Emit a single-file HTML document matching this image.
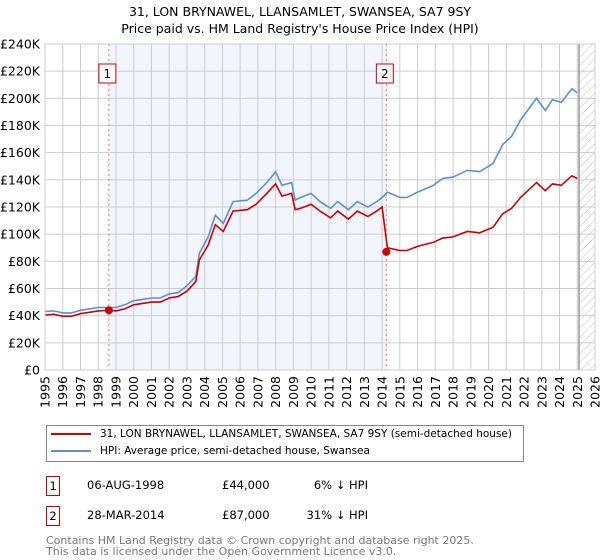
<!DOCTYPE html>
<html><head><meta charset="utf-8"><style>
body{margin:0;background:#fff;font-family:"DejaVu Sans","Liberation Sans",sans-serif;}
#wrap{position:relative;width:600px;height:560px;overflow:hidden;}
.t{position:absolute;font-size:12px;color:#000;white-space:nowrap;}
</style></head><body>
<div id="wrap">
<div class="t" style="left:0;width:600px;text-align:center;top:3px;font-size:12.5px;line-height:17px;">31, LON BRYNAWEL, LLANSAMLET, SWANSEA, SA7 9SY<br>Price paid vs. HM Land Registry's House Price Index (HPI)</div>
<svg id="chart" width="600" height="420" style="position:absolute;left:0;top:0;font-family:'DejaVu Sans','Liberation Sans',sans-serif;"></svg>
<div style="position:absolute;left:46px;top:425px;width:476px;height:35px;border:1px solid #888;">
 <div style="position:absolute;left:4px;top:2px;font-size:10.5px;white-space:nowrap;"><span style="display:inline-block;width:40px;height:2px;background:#cc0000;vertical-align:middle;margin-right:9px;"></span>31, LON BRYNAWEL, LLANSAMLET, SWANSEA, SA7 9SY (semi-detached house)</div>
 <div style="position:absolute;left:4px;top:19px;font-size:10.5px;white-space:nowrap;"><span style="display:inline-block;width:40px;height:2px;background:#5f8fd0;vertical-align:middle;margin-right:9px;"></span>HPI: Average price, semi-detached house, Swansea</div>
</div>
<div style="position:absolute;left:46px;top:476px;width:12px;height:18px;border:1px solid #cc0000;font-size:11.5px;text-align:center;line-height:18px;">1</div>
<div class="t" style="left:87px;top:478px;font-size:11.5px;">06-AUG-1998</div>
<div class="t" style="left:222px;top:478px;font-size:11.5px;">£44,000</div>
<div class="t" style="left:268px;width:100px;text-align:right;top:478px;font-size:11.5px;">6% ↓ HPI</div>
<div style="position:absolute;left:46px;top:506px;width:12px;height:18px;border:1px solid #cc0000;font-size:11.5px;text-align:center;line-height:18px;">2</div>
<div class="t" style="left:87px;top:508px;font-size:11.5px;">28-MAR-2014</div>
<div class="t" style="left:222px;top:508px;font-size:11.5px;">£87,000</div>
<div class="t" style="left:268px;width:100px;text-align:right;top:508px;font-size:11.5px;">31% ↓ HPI</div>
<div class="t" style="left:46px;top:535px;font-size:11px;color:#777;line-height:11px;">Contains HM Land Registry data © Crown copyright and database right 2025.<br>This data is licensed under the Open Government Licence v3.0.</div>
</div>
<script>
const hpiYears=[1995,1995.5,1996,1996.5,1997,1997.5,1998,1998.6,1999,1999.5,2000,2000.5,2001,2001.5,2002,2002.5,2003,2003.5,2003.7,2004.2,2004.6,2005.05,2005.6,2006.4,2006.9,2007.5,2008,2008.35,2008.9,2009.1,2009.4,2010,2010.5,2011.1,2011.5,2012.1,2012.6,2013.2,2013.7,2014.0,2014.3,2015,2015.4,2016,2016.9,2017.4,2018,2018.8,2019.5,2020.25,2020.8,2021.3,2021.8,2022.7,2023.2,2023.6,2024.1,2024.7,2025];
const hpiValues=[43,43.5,42,42,44,45,46,46,46,48,51,52,53,53,56,57,62,69,86,98,114,108,124,125,130,138,146,136,138,125,127,130,124,119,124,118,124,120,124,127,131,127,127,131,136,141,142,147,146,152,166,172,184,200,191,199,197,207,204];
const redValues=[40.5,41,39.5,39.5,41.5,42.5,43.5,44,43.5,45,48,49,50,50,53,54,58,65,81,92,107,102,117,118,122,130,137,128,130,118,119,122,117,112,117,111,117,113,117,120,90,88,88,91,94,97,98,102,101,105,115,119,127,138,132,137,136,143,141];
const yTicks=[0,20,40,60,80,100,120,140,160,180,200,220,240];
const yTickLabels=["£0","£20K","£40K","£60K","£80K","£100K","£120K","£140K","£160K","£180K","£200K","£220K","£240K"];
const xTicks=[1995,1996,1997,1998,1999,2000,2001,2002,2003,2004,2005,2006,2007,2008,2009,2010,2011,2012,2013,2014,2015,2016,2017,2018,2019,2020,2021,2022,2023,2024,2025,2026];
const saleYears=[1998.6,2014.24];
const saleValues=[44,87];
const saleLabels=["1","2"];
const x0=45,x1=595,y0=370,y1=44;
const X=v=>x0+(v-1995)/(2026-1995)*(x1-x0);
const Y=v=>y0-(v/240)*(y0-y1);
const svg=document.getElementById('chart');const NS='http://www.w3.org/2000/svg';
function mk(t,a,p){const e=document.createElementNS(NS,t);for(const k in a)e.setAttribute(k,a[k]);(p||svg).appendChild(e);return e;}
let defs=mk('defs',{});
let pat=mk('pattern',{id:'hatch',width:6,height:6,patternUnits:'userSpaceOnUse',patternTransform:'rotate(45)'},defs);
mk('line',{x1:0,y1:0,x2:0,y2:6,stroke:'#bbb','stroke-width':1},pat);
let sh=mk('rect',{x:X(saleYears[0]),y:y1,width:X(saleYears[1])-X(saleYears[0]),height:y0-y1,fill:'#f2f5fd'});


let ht=mk('rect',{x:X(2025.1),y:y1,width:x1-X(2025.1),height:y0-y1,fill:'url(#hatch)'});


yTicks.forEach((v,i)=>{
 let l=mk('line',{x1:x0,x2:x1,y1:Y(v),y2:Y(v),stroke:'#ccc','stroke-width':1});
 
 
 let t=mk('text',{x:x0-5,y:Y(v)+4.5,'text-anchor':'end','font-size':12.5});
 t.textContent=yTickLabels[i];
 
 
});
xTicks.forEach(v=>{
 let l=mk('line',{x1:X(v),x2:X(v),y1:y1,y2:y0,stroke:'#ccc','stroke-width':1});
 
 
 let t=mk('text',{x:0,y:0,'text-anchor':'end','font-size':12.5,transform:`translate(${X(v)+4.5},${y0+6}) rotate(-90)`});
 t.textContent=v;
 
 
});
let vl=mk('line',{x1:X(2025.1),x2:X(2025.1),y1:y1,y2:y0,stroke:'#999','stroke-width':1.5});


saleYears.forEach((v,i)=>{
 let l=mk('line',{x1:X(v),x2:X(v),y1:y1,y2:y0,stroke:'#f07070','stroke-width':1,'stroke-dasharray':'2,3'});
 
 
 let r=mk('rect',{x:X(v)-10,y:64,width:17,height:19,fill:'#fff',stroke:'#cc0000'});
 
 
 let t=mk('text',{x:X(v)-1.5,y:78,'text-anchor':'middle','font-size':12});
 t.textContent=saleLabels[i];
 
 
});
const pts=(vals)=>hpiYears.map((y,i)=>X(y).toFixed(1)+','+Y(vals[i]).toFixed(1)).join(' ');
let hp=mk('polyline',{points:pts(hpiValues),fill:'none',stroke:'#5f8fd0','stroke-width':1.6});


let rp=mk('polyline',{points:pts(redValues),fill:'none',stroke:'#cc0000','stroke-width':1.6});


saleYears.forEach((v,i)=>{
 let c=mk('circle',{cx:X(v),cy:Y(saleValues[i]),r:4,fill:'#cc0000'});
 
 
});
let fr=mk('rect',{x:x0,y:y1,width:x1-x0,height:y0-y1,fill:'none',stroke:'#ccc'});


</script>
</body></html>
